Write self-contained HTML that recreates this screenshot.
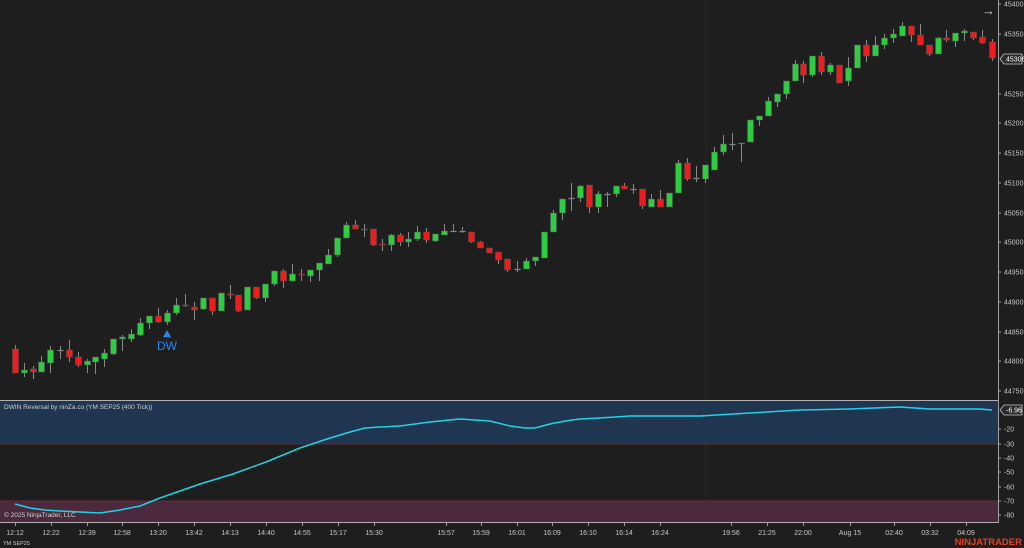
<!DOCTYPE html>
<html><head><meta charset="utf-8"><style>
html,body{margin:0;padding:0;background:#1e1e1e;width:1024px;height:548px;overflow:hidden}
svg{display:block;font-family:"Liberation Sans",sans-serif}
.ax{fill:#c8c8c8;font-size:7px}
.xl{fill:#c8c8c8;font-size:7px;text-anchor:middle}
</style></head><body>
<svg id="s" width="1024" height="548" viewBox="0 0 1024 548">
<rect width="1024" height="548" fill="#1e1e1e"/>
<line x1="706" y1="0" x2="706" y2="522" stroke="#2a2a2a" stroke-width="1"/>
<!-- indicator bands -->
<rect x="0" y="401" width="998" height="43" fill="#1f3550"/>
<line x1="0" y1="444" x2="998" y2="444" stroke="#5a2a38" stroke-width="1"/>
<rect x="0" y="501" width="998" height="21" fill="#4a2a3c"/>
<line x1="0" y1="501" x2="998" y2="501" stroke="#6a2a38" stroke-width="1"/>
<line x1="0" y1="400.5" x2="998" y2="400.5" stroke="#b0b0b0" stroke-width="1"/>
<line x1="0" y1="522.5" x2="998" y2="522.5" stroke="#b0b0b0" stroke-width="1"/>
<line x1="998.5" y1="0" x2="998.5" y2="523" stroke="#a0a0a0" stroke-width="1"/>
<g id="candles"></g>
<polyline fill="none" stroke="#22d3e6" stroke-width="1.5" points="15,504 30,508 45,510 60,511 80,512 100,513 120,510 140,506 160,498 180,491 200,484 233,474 266,462 300,448 315,443 330,438 350,432 365,428 380,427 400,426 430,422 460,419 475,420 490,421 510,426 525,428 535,428 550,424 565,421 580,419 600,418 630,416 660,416 700,416 750,413 800,410 850,409 900,407 930,409 960,409 980,409 992,410"/>
<!-- DW signal -->
<polygon points="167,330 163,337 171,337" fill="#2a86e8"/>
<text x="167" y="350" fill="#2a86e8" font-size="12" text-anchor="middle">DW</text>
<text x="4" y="409" fill="#d0d0d0" font-size="6.5">DWIN Reversal by ninZa.co (YM SEP25 (400 Tick))</text>
<text x="4" y="517" fill="#d0d0d0" font-size="6.5">© 2025 NinjaTrader, LLC</text>
<!-- arrow -->
<text x="982" y="15" fill="#d0d0d0" font-size="13">→</text>
<!-- price axis -->
<g class="ax">
<text x="1004" y="6.5">45400</text><text x="1004" y="36.5">45350</text>
<text x="1004" y="96.5">45250</text><text x="1004" y="125.5">45200</text><text x="1004" y="155.5">45150</text>
<text x="1004" y="185.5">45100</text><text x="1004" y="215.5">45050</text><text x="1004" y="244.5">45000</text>
<text x="1004" y="274.5">44950</text><text x="1004" y="304.5">44900</text><text x="1004" y="334.5">44850</text>
<text x="1004" y="363.5">44800</text><text x="1004" y="393.5">44750</text>
<text x="1004" y="431.5">-20</text><text x="1004" y="446.5">-30</text><text x="1004" y="460.5">-40</text>
<text x="1004" y="474.5">-50</text><text x="1004" y="489.5">-60</text><text x="1004" y="503.5">-70</text><text x="1004" y="517.5">-80</text>
</g>
<g stroke="#a0a0a0">
<line x1="998" y1="4" x2="1001" y2="4"/><line x1="998" y1="34" x2="1001" y2="34"/><line x1="998" y1="94" x2="1001" y2="94"/>
<line x1="998" y1="123" x2="1001" y2="123"/><line x1="998" y1="153" x2="1001" y2="153"/><line x1="998" y1="183" x2="1001" y2="183"/>
<line x1="998" y1="213" x2="1001" y2="213"/><line x1="998" y1="242" x2="1001" y2="242"/><line x1="998" y1="272" x2="1001" y2="272"/>
<line x1="998" y1="302" x2="1001" y2="302"/><line x1="998" y1="332" x2="1001" y2="332"/><line x1="998" y1="361" x2="1001" y2="361"/>
<line x1="998" y1="391" x2="1001" y2="391"/>
<line x1="998" y1="429" x2="1001" y2="429"/><line x1="998" y1="444" x2="1001" y2="444"/><line x1="998" y1="458" x2="1001" y2="458"/>
<line x1="998" y1="472" x2="1001" y2="472"/><line x1="998" y1="487" x2="1001" y2="487"/><line x1="998" y1="501" x2="1001" y2="501"/><line x1="998" y1="515" x2="1001" y2="515"/>
</g>
<path d="M1000,59 L1004,54 L1022,54 L1022,64 L1004,64 Z" fill="#2a2a2a" stroke="#c8c8c8" stroke-width="0.8"/>
<text x="1006" y="61.5" fill="#ffffff" font-size="7">45306</text>
<path d="M1000,410 L1004,405 L1022,405 L1022,415 L1004,415 Z" fill="#2a2a2a" stroke="#c8c8c8" stroke-width="0.8"/>
<text x="1006" y="412.5" fill="#ffffff" font-size="7">-6.96</text>
<!-- time axis -->
<g id="xt" stroke="#a0a0a0"></g>
<g class="xl">
<text x="15" y="535">12:12</text><text x="51" y="535">12:22</text><text x="87" y="535">12:39</text><text x="122" y="535">12:58</text>
<text x="158" y="535">13:20</text><text x="194" y="535">13:42</text><text x="230" y="535">14:13</text><text x="266" y="535">14:40</text>
<text x="302" y="535">14:55</text><text x="338" y="535">15:17</text><text x="374" y="535">15:30</text><text x="446" y="535">15:57</text>
<text x="481" y="535">15:59</text><text x="517" y="535">16:01</text><text x="552" y="535">16:09</text><text x="588" y="535">16:10</text>
<text x="624" y="535">16:14</text><text x="660" y="535">16:24</text><text x="731" y="535">19:56</text><text x="767" y="535">21:25</text>
<text x="803" y="535">22:00</text><text x="850" y="535">Aug 15</text><text x="894" y="535">02:40</text><text x="930" y="535">03:32</text><text x="966" y="535">04:09</text>
</g>
<text x="3" y="545" fill="#c8c8c8" font-size="5.5">YM SEP25</text>
<text x="1022" y="545" fill="#e8401c" font-size="9.5" font-weight="bold" text-anchor="end">NINJATRADER</text>
</svg>
<script>
// x, bodyTop, bodyBottom, wickTop, wickBottom, color(g/r/d)
var C=[
[15,349,373,345,373,'r'],[24,370,373,363,377,'g'],[33,369,372,366,379,'r'],[41,362,372,356,372,'g'],[50,350,363,346,373,'g'],
[60,350,350,346,359,'d'],[69,350,357,340,362,'r'],[78,357,365,352,367,'r'],[87,361,365,359,373,'g'],[95,357,362,357,374,'g'],
[104,353,359,349,367,'g'],[113,339,354,339,355,'g'],[122,337,339,335,351,'g'],[131,334,339,329,342,'g'],[140,323,335,318,336,'g'],
[149,316,323,316,329,'g'],[158,316,322,308,323,'r'],[167,313,322,310,325,'g'],[176,305,313,298,315,'g'],[185,305,306,294,307,'r'],
[194,307,310,302,320,'r'],[203,298,309,298,310,'g'],[212,298,311,298,315,'r'],[221,293,311,293,311,'g'],[230,294,295,285,299,'r'],
[238,295,311,295,312,'r'],[247,287,310,287,310,'g'],[256,287,298,287,299,'r'],[265,284,298,284,302,'g'],[274,271,284,271,286,'g'],
[283,271,281,269,288,'r'],[292,274,281,264,281,'g'],[301,274,275,269,281,'r'],[310,270,276,270,282,'g'],[319,263,270,263,281,'g'],
[328,255,264,249,264,'g'],[337,238,255,238,257,'g'],[346,225,238,222,238,'g'],[355,225,229,220,229,'r'],[364,229,230,224,237,'r'],
[373,229,245,229,246,'r'],[382,244,245,239,251,'r'],[391,235,245,234,251,'g'],[400,235,242,233,246,'r'],[408,239,242,232,247,'g'],
[417,232,239,226,241,'g'],[426,232,240,228,243,'r'],[435,234,241,234,242,'g'],[444,231,235,224,235,'g'],[453,231,231,224,232,'d'],
[462,231,231,227,233,'d'],[471,232,242,232,243,'r'],[480,242,248,241,248,'r'],[489,248,253,248,253,'r'],[498,252,260,252,264,'r'],
[507,259,270,259,272,'r'],[517,269,269,261,272,'d'],[526,261,269,258,269,'g'],[535,257,261,257,266,'g'],[544,232,258,232,258,'g'],
[553,213,232,210,232,'g'],[562,199,213,199,220,'g'],[571,198,198,183,211,'d'],[580,186,198,185,202,'g'],[589,185,207,185,213,'r'],
[598,194,207,191,213,'g'],[607,194,194,192,207,'d'],[616,186,194,186,197,'g'],[624,186,189,183,189,'r'],[633,189,189,184,194,'d'],
[642,189,206,189,209,'r'],[651,199,207,194,207,'g'],[660,199,207,190,207,'r'],[669,193,207,193,207,'g'],[678,163,193,160,193,'g'],
[687,163,179,158,181,'r'],[696,178,178,166,182,'d'],[705,165,179,165,183,'g'],[714,152,170,147,170,'g'],[723,144,152,135,155,'g'],
[732,144,144,133,150,'d'],[741,143,144,143,162,'g'],[750,120,142,120,142,'g'],[759,116,120,116,126,'g'],[768,101,116,97,116,'g'],
[777,94,102,94,107,'g'],[786,81,94,81,99,'g'],[795,64,81,60,81,'g'],[803,64,75,61,83,'r'],[812,56,75,56,77,'g'],
[821,56,72,52,75,'r'],[830,65,72,63,75,'g'],[839,65,83,65,83,'r'],[848,68,81,57,86,'g'],[857,45,68,45,68,'g'],
[866,45,56,40,62,'r'],[875,45,56,36,56,'g'],[884,38,45,34,49,'g'],[893,34,38,29,43,'g'],[902,26,36,22,36,'g'],
[911,26,35,26,42,'r'],[920,35,45,24,45,'r'],[929,45,54,45,56,'r'],[938,38,54,37,54,'g'],[946,38,40,30,42,'r'],
[955,33,41,33,47,'g'],[964,31,33,29,41,'g'],[973,32,38,32,40,'r'],[982,37,43,30,44,'r'],[992,42,58,39,61,'r']];
var ns='http://www.w3.org/2000/svg',g=document.getElementById('candles');
function el(n,a){var e=document.createElementNS(ns,n);for(var k in a)e.setAttribute(k,a[k]);g.appendChild(e);return e;}
C.forEach(function(c){
 var x=c[0];
 el('line',{x1:x+0.5,x2:x+0.5,y1:c[3],y2:c[4],stroke:'#8a8a8a','stroke-width':1});
 var h=Math.max(c[2]-c[1],1);
 var f=c[5]=='g'?'#2ecc40':(c[5]=='r'?'#ee1c1c':'#bbbbbb');
 el('rect',{x:x-2.5,y:c[1],width:6,height:h,fill:f,stroke:'#555','stroke-width':0.5});
});
var xs=[15,51,87,122,158,194,230,266,302,338,374,446,481,517,552,588,624,660,731,767,803,850,894,930,966];
var xt=document.getElementById('xt');
xs.forEach(function(x){var l=document.createElementNS(ns,'line');l.setAttribute('x1',x+0.5);l.setAttribute('x2',x+0.5);l.setAttribute('y1',523);l.setAttribute('y2',526);xt.appendChild(l);});
</script>
</body></html>
